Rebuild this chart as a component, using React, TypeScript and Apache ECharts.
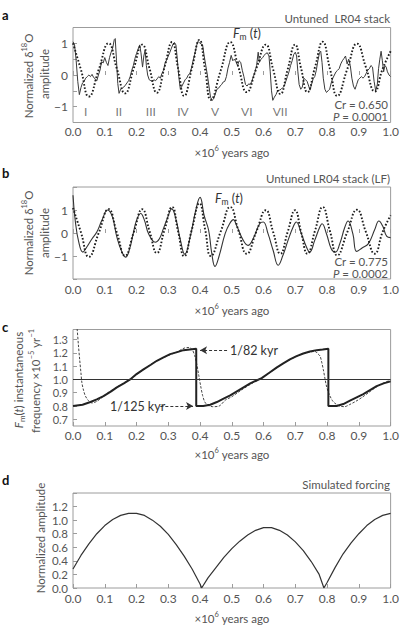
import React, { useEffect, useRef } from "react";
import * as echarts from "echarts";

// ---- a: untuned LR04 stack, normalized δ18O (age ×10^6 yr ago) ----
const lr04Age = [
  0, 0.005, 0.01, 0.015, 0.02, 0.025, 0.03, 0.035, 0.04, 0.045,
  0.05, 0.055, 0.06, 0.065, 0.07, 0.075, 0.08, 0.085, 0.09, 0.095,
  0.1, 0.105, 0.11, 0.115, 0.12, 0.125, 0.13, 0.133, 0.137, 0.141,
  0.145, 0.15, 0.155, 0.16, 0.165, 0.17, 0.175, 0.18, 0.185, 0.19,
  0.195, 0.2, 0.205, 0.21, 0.214, 0.219, 0.223, 0.227, 0.231, 0.235,
  0.24, 0.245, 0.25, 0.255, 0.26, 0.265, 0.27, 0.275, 0.28, 0.285,
  0.29, 0.295, 0.3, 0.305, 0.31, 0.315, 0.32, 0.324, 0.328, 0.333,
  0.338, 0.343, 0.348, 0.353, 0.358, 0.363, 0.368, 0.373, 0.378, 0.383,
  0.388, 0.393, 0.398, 0.403, 0.408, 0.413, 0.418, 0.423, 0.428, 0.433,
  0.438, 0.443, 0.448, 0.453, 0.458, 0.463, 0.468, 0.473, 0.478, 0.483,
  0.488, 0.493, 0.498, 0.503, 0.508, 0.513, 0.518, 0.523, 0.528, 0.533,
  0.538, 0.543, 0.548, 0.553, 0.558, 0.563, 0.568, 0.573, 0.578, 0.583,
  0.587, 0.592, 0.597, 0.602, 0.607, 0.612, 0.617, 0.621, 0.625, 0.629,
  0.634, 0.639, 0.644, 0.65, 0.655, 0.66, 0.665, 0.67, 0.675, 0.68,
  0.685, 0.69, 0.695, 0.7, 0.704, 0.708, 0.712, 0.717, 0.722, 0.727,
  0.732, 0.737, 0.742, 0.746, 0.751, 0.756, 0.761, 0.766, 0.771, 0.776,
  0.78, 0.784, 0.788, 0.793, 0.798, 0.803, 0.808, 0.813, 0.818, 0.823,
  0.828, 0.833, 0.838, 0.843, 0.848, 0.853, 0.858, 0.863, 0.868, 0.873,
  0.878, 0.883, 0.888, 0.893, 0.898, 0.903, 0.908, 0.913, 0.918, 0.923,
  0.928, 0.933, 0.938, 0.943, 0.948, 0.953, 0.958, 0.962, 0.966, 0.97,
  0.974, 0.978, 0.982, 0.986, 0.99, 0.995, 1.0,
];
const lr04Amp = [
  1.05, 0.95, 0.45, -0.2, -0.62, -0.4, -0.25, -0.2, -0.1, -0.05,
  0.0, -0.05, 0.02, -0.08, -0.12, -0.18, 0.0, 0.15, 0.42, 0.38,
  0.55, 0.4, 0.3, 0.55, 0.72, 0.85, 1.12, 1.15, 0.45, -0.27,
  -0.58, -0.45, -0.42, -0.38, -0.32, -0.25, -0.18, -0.05, 0.15, 0.3,
  0.52, 0.68, 0.82, 0.95, 0.7, 0.25, 0.6, 0.78, 0.3, 0.0,
  -0.15, -0.18, -0.2, -0.15, -0.18, -0.12, -0.05, -0.1, 0.05, 0.15,
  0.38, 0.48, 0.6, 0.72, 0.85, 0.98, 1.02, 0.95, 0.55, -0.05,
  -0.45, -0.35, -0.25, -0.15, -0.1, 0.0, 0.05, 0.22, 0.45, 0.65,
  0.88, 1.06, 1.02, 0.98, 0.95, 0.6, 0.3, 0.0, -0.35, -0.7,
  -0.8, -0.75, -0.6, -0.45, -0.42, -0.35, -0.3, -0.22, -0.2, -0.05,
  0.22, 0.4, 0.62, 0.45, 0.5, 0.42, 0.3, 0.45, 0.4, 0.15,
  -0.05, -0.3, -0.35, -0.28, -0.3, -0.2, -0.05, 0.1, 0.3, 0.72,
  0.4, 0.5, 0.55, 0.62, 0.68, 0.7, 0.6, 0.1, -0.5, -0.8,
  -0.7, -0.62, -0.5, -0.48, -0.45, -0.4, -0.35, -0.2, -0.05, 0.1,
  0.3, 0.45, 0.65, 0.72, 0.6, 0.1, -0.3, -0.45, -0.38, -0.1,
  -0.15, -0.2, -0.35, -0.48, -0.3, -0.12, -0.05, 0.15, 0.45, 0.7,
  0.75, 0.4, -0.1, -0.45, -0.55, -0.5, -0.45, -0.25, -0.1, 0.0,
  0.1, 0.15, 0.2, 0.35, 0.45, 0.52, 0.6, 0.35, 0.5, 0.3,
  -0.1, -0.35, -0.45, -0.3, -0.15, -0.1, -0.05, -0.1, -0.05, 0.05,
  0.15, 0.2, 0.3, 0.25, -0.2, -0.5, -0.3, 0.2, 0.5, 0.75,
  0.45, 0.1, 0.3, 0.25, 0.1, 0.0, -0.05,
];

// Fm(t): turning points and mid-crossings of the modulated model curve
const fmAge = [
  0, 0.025, 0.05, 0.081, 0.112, 0.138, 0.164, 0.191, 0.218, 0.241,
  0.264, 0.288, 0.312, 0.331, 0.35, 0.374, 0.398, 0.416, 0.434, 0.465,
  0.495, 0.521, 0.547, 0.577, 0.607, 0.63, 0.653, 0.676, 0.699, 0.718,
  0.738, 0.762, 0.786, 0.809, 0.832, 0.863, 0.894, 0.922, 0.95, 0.975, 1.0,
];
const fmAmpA = [
  1.0, 0.17, -0.68, 0.17, 1.0, 0.2, -0.58, 0.2, 0.96, 0.2,
  -0.56, 0.24, 1.04, 0.2, -0.66, 0.2, 1.11, 0.17, -0.78, 0.14,
  1.04, 0.24, -0.54, 0.2, 0.96, 0.18, -0.6, 0.18, 0.96, 0.21,
  -0.54, 0.25, 1.05, 0.19, -0.66, 0.17, 0.99, 0.25, -0.52, 0.2, 0.75,
];
const fmAmpB = [
  1.09, 0.03, -1.04, 0.0, 1.04, 0.02, -0.99, 0.02, 1.03, 0.08,
  -0.87, 0.13, 1.13, 0.06, -1.01, 0.14, 1.29, 0.15, -1.0, 0.06,
  1.13, 0.1, -0.9, 0.05, 0.99, 0.05, -0.9, 0.05, 0.99, 0.05,
  -0.9, 0.1, 1.13, 0.08, -0.97, 0.02, 1.01, 0.05, -0.9, 0.05, 0.77,
];

// ---- b: low-frequency (filtered) stack ----
const lfAge = [
  0, 0.007, 0.018, 0.031, 0.044, 0.06, 0.075, 0.091, 0.109, 0.124,
  0.138, 0.154, 0.166, 0.178, 0.19, 0.2, 0.213, 0.225, 0.238, 0.259,
  0.272, 0.285, 0.296, 0.311, 0.325, 0.338, 0.352, 0.369, 0.385, 0.4,
  0.413, 0.427, 0.437, 0.447, 0.46, 0.479, 0.493, 0.505, 0.515, 0.536,
  0.551, 0.567, 0.588, 0.599, 0.614, 0.63, 0.646, 0.661, 0.677, 0.693,
  0.703, 0.719, 0.735, 0.745, 0.761, 0.777, 0.784, 0.798, 0.813, 0.826,
  0.84, 0.856, 0.866, 0.881, 0.893, 0.91, 0.93, 0.95, 0.963, 0.975, 0.988, 1.0,
];
const lfAmp = [
  1.64, 0.55, -0.39, -0.83, -0.6, -0.25, 0.04, 0.55, 1.0, 0.7,
  -0.17, -0.83, -1.05, -0.7, 0.0, 0.55, 0.85, 0.55, -0.03, -0.4,
  -0.25, 0.2, 0.6, 1.05, 0.55, -0.3, -0.92, -0.17, 0.9, 1.55,
  0.75, 0.12, -0.9, -1.45, -1.0, -0.03, 0.4, 0.58, 0.33, -0.32,
  -0.54, -0.25, 0.41, 0.48, -0.03, -0.75, -1.4, -0.97, -0.32, 0.26,
  0.48, -0.03, -0.61, -0.83, -0.32, 0.26, 0.4, -0.03, -0.68, -0.83,
  -0.46, 0.26, 0.52, -0.03, -0.8, -0.65, -0.46, 0.15, 0.52, 0.3, -0.15, -0.2,
];

// ---- c: instantaneous frequency of Fm(t), ×10^-5 yr^-1 ----
const freqAge = [
  0, 0.03, 0.055, 0.075, 0.096, 0.12, 0.138, 0.16, 0.18, 0.2,
  0.222, 0.245, 0.264, 0.285, 0.306, 0.328, 0.348, 0.368, 0.388, 0.388,
  0.41, 0.432, 0.453, 0.474, 0.495, 0.516, 0.537, 0.558, 0.576, 0.594,
  0.618, 0.642, 0.662, 0.683, 0.704, 0.725, 0.746, 0.767, 0.786, 0.804,
  0.804, 0.83, 0.851, 0.872, 0.893, 0.914, 0.935, 0.956, 0.978, 1.0,
];
const freqVal = [
  0.8, 0.81, 0.83, 0.85, 0.875, 0.91, 0.94, 0.97, 1.0, 1.04,
  1.075, 1.11, 1.14, 1.165, 1.19, 1.205, 1.22, 1.225, 1.23, 0.8,
  0.8, 0.81, 0.83, 0.855, 0.88, 0.91, 0.94, 0.97, 0.99, 1.01,
  1.05, 1.09, 1.12, 1.15, 1.175, 1.195, 1.21, 1.22, 1.225, 1.23,
  0.8, 0.8, 0.815, 0.84, 0.865, 0.89, 0.92, 0.95, 0.97, 0.985,
];
const freqEstAge = [
  0.008, 0.013, 0.017, 0.021, 0.025, 0.028, 0.033, 0.039, 0.049, 0.06,
  0.075, 0.09, 0.11, 0.14, 0.18, 0.22, 0.26, 0.3, 0.33, 0.35,
  0.365, 0.375, 0.383, 0.39, 0.396, 0.402, 0.408, 0.415, 0.425, 0.44,
  0.46, 0.48, 0.5, 0.53, 0.56, 0.6, 0.64, 0.68, 0.72, 0.745,
  0.762, 0.772, 0.778, 0.783, 0.788, 0.793, 0.797, 0.803, 0.809, 0.817,
  0.825, 0.84, 0.855, 0.87, 0.89, 0.91, 0.93, 0.95, 0.97, 1.0,
];
const freqEstVal = [
  1.5, 1.38, 1.26, 1.15, 1.05, 0.975, 0.92, 0.875, 0.84, 0.823,
  0.835, 0.862, 0.9, 0.945, 1.0, 1.07, 1.135, 1.18, 1.21, 1.235,
  1.24, 1.225, 1.18, 1.11, 1.03, 0.95, 0.88, 0.83, 0.805, 0.795,
  0.8, 0.845, 0.87, 0.92, 0.965, 1.02, 1.085, 1.145, 1.19, 1.205,
  1.21, 1.19, 1.175, 1.13, 1.075, 1.01, 0.96, 0.91, 0.875, 0.84,
  0.82, 0.8, 0.795, 0.81, 0.835, 0.865, 0.9, 0.935, 0.965, 0.995,
];
const freqTicks = [0.7, 0.8, 0.9, 1.0, 1.1, 1.2, 1.3];
const meanFreq = 1.0;

// ---- d: simulated forcing amplitude ----
const forcingAge = [
  0, 0.025, 0.05, 0.075, 0.1, 0.125, 0.15, 0.175, 0.2, 0.225,
  0.25, 0.275, 0.3, 0.325, 0.35, 0.375, 0.4, 0.405, 0.425, 0.45,
  0.475, 0.5, 0.525, 0.55, 0.575, 0.6, 0.625, 0.65, 0.675, 0.7,
  0.725, 0.75, 0.775, 0.79, 0.8, 0.825, 0.85, 0.875, 0.9, 0.925,
  0.95, 0.975, 1.0,
];
const forcingAmp = [
  0.28, 0.48, 0.65, 0.8, 0.92, 1.01, 1.07, 1.1, 1.1, 1.07,
  1.0, 0.91, 0.79, 0.64, 0.47, 0.28, 0.06, 0.0, 0.15, 0.3,
  0.45, 0.58, 0.69, 0.78, 0.85, 0.89, 0.89, 0.85, 0.78, 0.68,
  0.55, 0.39, 0.2, 0.0, 0.08, 0.3, 0.5, 0.66, 0.8, 0.92,
  1.01, 1.07, 1.1,
];

// glacial cycle labels in panel a
const numerals = ["I", "II", "III", "IV", "V", "VI", "VII"];
const numeralAge = [0.04, 0.144, 0.245, 0.346, 0.447, 0.547, 0.652];
const numeralLevel = -1.16;

const FONT = "Lato, 'Open Sans', 'DejaVu Sans', sans-serif";
const TXT = "#555";
const FRAME = "#9c9c9c";
const FS = 11.5;

const RICH: any = {
  n: { fontSize: FS, fontFamily: FONT, fill: TXT, lineHeight: 16 },
  it: { fontSize: FS, fontFamily: FONT, fill: TXT, fontStyle: "italic", lineHeight: 16 },
  big: { fontSize: 12.5, fontFamily: FONT, fill: "#333", lineHeight: 16 },
  bigit: { fontSize: 12.5, fontFamily: FONT, fill: "#333", fontStyle: "italic", lineHeight: 16 },
  sup: { fontSize: 7.5, fontFamily: FONT, fill: TXT, verticalAlign: "top", lineHeight: 8 },
  sub: { fontSize: 8, fontFamily: FONT, fill: TXT, verticalAlign: "bottom", lineHeight: 8 },
  bsub: { fontSize: 8.5, fontFamily: FONT, fill: "#333", verticalAlign: "bottom", lineHeight: 8 },
};

const zip = (xs: number[], ys: number[]) =>
  xs.slice(0, Math.min(xs.length, ys.length)).map((x, i) => [x, ys[i]]);

function label(x: number, y: number, text: string, extra: any = {}, rotation = 0) {
  return {
    type: "text",
    x,
    y,
    rotation,
    silent: true,
    style: {
      text,
      rich: RICH,
      fill: TXT,
      fontSize: FS,
      fontFamily: FONT,
      align: "left",
      verticalAlign: "middle",
      ...extra,
    },
  };
}

const grids = [
  { left: 73, top: 27.5, width: 318, height: 95 },
  { left: 73, top: 187, width: 318, height: 92 },
  { left: 73, top: 329.5, width: 318, height: 96.5 },
  { left: 73, top: 493, width: 318, height: 95 },
].map((g) => ({ ...g, show: true, borderColor: FRAME, borderWidth: 1, backgroundColor: "transparent" }));

const tickStyle = { inside: true, length: 4, lineStyle: { color: FRAME, width: 1 } };
const labelBase = { fontSize: 12, color: TXT, fontFamily: FONT };

const xAxes = [3, 4, 3, 4].map((margin, i) => ({
  type: "value",
  gridIndex: i,
  min: 0,
  max: 1,
  interval: 0.1,
  axisLine: { show: false },
  axisTick: tickStyle,
  splitLine: { show: false },
  axisLabel: { ...labelBase, margin, formatter: (v: number) => v.toFixed(1) },
}));

const minus = (v: number) => (v < 0 ? "\u2212" + Math.abs(v) : String(v));

const yAxes = [
  {
    gridIndex: 0, min: -1.5, max: 1.5, interval: 0.5,
    axisLabel: { formatter: (v: number) => (Number.isInteger(v) && Math.abs(v) <= 1 ? minus(v) : "") },
  },
  {
    gridIndex: 1, min: -2, max: 2, interval: 1,
    axisLabel: { formatter: (v: number) => (Math.abs(v) <= 1 ? minus(v) : "") },
  },
  {
    gridIndex: 2, min: 0.65, max: 1.375,
    axisLabel: { customValues: freqTicks, fontSize: 11, formatter: (v: number) => v.toFixed(1) },
    axisTick: { customValues: freqTicks },
  },
  {
    gridIndex: 3, min: 0, max: 1.4, interval: 0.2,
    axisLabel: { fontSize: 11.5, formatter: (v: number) => (v > 1.3 ? "" : v.toFixed(1)) },
  },
].map((a: any) => ({
  type: "value",
  ...a,
  axisLine: { show: false },
  axisTick: { ...tickStyle, ...(a.axisTick || {}) },
  splitLine: { show: false },
  axisLabel: { ...labelBase, margin: 5, ...a.axisLabel },
}));

const dotted = { color: "#1c1c1c", width: 1.9, type: [1.6, 1.9] as any };
const solid = { color: "#3a3a3a", width: 1 };

const fmLabel = "{bigit|F}{bsub|m}{big| (}{bigit|t}{big|)}";
const agoLabel = "{n|\u00d710}{sup|6}{n| years ago}";

const option: any = {
  animation: false,
  backgroundColor: "#ffffff",
  grid: grids,
  xAxis: xAxes,
  yAxis: yAxes,
  series: [
    {
      type: "line", xAxisIndex: 0, yAxisIndex: 0, data: zip(lr04Age, lr04Amp),
      showSymbol: false, lineStyle: solid, z: 3,
    },
    {
      type: "line", xAxisIndex: 0, yAxisIndex: 0, data: zip(fmAge, fmAmpA),
      showSymbol: false, smooth: 0.5, lineStyle: dotted, z: 4,
    },
    {
      type: "scatter", xAxisIndex: 0, yAxisIndex: 0, symbolSize: 1, silent: true,
      itemStyle: { color: "transparent" },
      data: numeralAge.map((t, i) => ({ name: numerals[i], value: [t, numeralLevel] })),
      label: { show: true, position: "inside", formatter: "{b}", color: TXT, fontSize: 12, fontFamily: FONT },
    },
    {
      type: "line", xAxisIndex: 1, yAxisIndex: 1, data: zip(lfAge, lfAmp),
      showSymbol: false, smooth: 0.45, lineStyle: { color: "#333", width: 1.1 }, z: 3,
    },
    {
      type: "line", xAxisIndex: 1, yAxisIndex: 1, data: zip(fmAge, fmAmpB),
      showSymbol: false, smooth: 0.5, lineStyle: dotted, z: 4,
    },
    {
      type: "line", xAxisIndex: 2, yAxisIndex: 2, data: zip(freqAge, freqVal),
      showSymbol: false, lineStyle: { color: "#222", width: 2 }, z: 4,
      markLine: {
        silent: true, symbol: ["none", "none"], label: { show: false },
        lineStyle: { color: "#333", width: 1, type: "solid" },
        data: [{ yAxis: meanFreq }],
      },
    },
    {
      type: "line", xAxisIndex: 2, yAxisIndex: 2, data: zip(freqEstAge, freqEstVal),
      showSymbol: false, smooth: 0.3, lineStyle: { color: "#444", width: 1, type: [2.5, 1.5] }, z: 3,
      markLine: {
        silent: true, label: { show: false }, symbol: ["none", "arrow"], symbolSize: [6, 7],
        lineStyle: { color: "#333", width: 1, type: [3, 2] },
        data: [
          [{ coord: [0.485, 1.22] }, { coord: [0.4, 1.22] }],
          [{ coord: [0.275, 0.8] }, { coord: [0.378, 0.8] }],
        ],
      },
    },
    {
      type: "line", xAxisIndex: 3, yAxisIndex: 3, data: zip(forcingAge, forcingAmp),
      showSymbol: false, lineStyle: { color: "#333", width: 1.2 },
    },
  ],
  graphic: [
    label(2, 15, "a", { fontWeight: "bold", fill: "#111", fontSize: 13, rich: undefined }),
    label(2, 173, "b", { fontWeight: "bold", fill: "#111", fontSize: 13, rich: undefined }),
    label(2, 327, "c", { fontWeight: "bold", fill: "#111", fontSize: 13, rich: undefined }),
    label(2, 480, "d", { fontWeight: "bold", fill: "#111", fontSize: 13, rich: undefined }),

    label(390, 18, "{n|Untuned  LR04 stack}", { align: "right" }),
    label(390, 178, "{n|Untuned LR04 stack (LF)}", { align: "right" }),
    label(390, 484, "{n|Simulated forcing}", { align: "right" }),

    label(232, 152, agoLabel, { align: "center" }),
    label(232, 310, agoLabel, { align: "center" }),
    label(232, 454, agoLabel, { align: "center" }),
    label(232, 618, agoLabel, { align: "center" }),

    label(28, 76, "{n|Normalized \u03b4}{sup|18}{n|O}", { align: "center" }, Math.PI / 2),
    label(44, 74, "{n|amplitude}", { align: "center" }, Math.PI / 2),
    label(28, 233, "{n|Normalized \u03b4}{sup|18}{n|O}", { align: "center" }, Math.PI / 2),
    label(44, 233, "{n|amplitude}", { align: "center" }, Math.PI / 2),
    label(18, 380, "{it|F}{sub|m}{n|(}{it|t}{n|) instantaneous}", { align: "center" }, Math.PI / 2),
    label(35, 381, "{n|frequency \u00d710}{sup|\u22125}{n| yr}{sup|\u22121}", { align: "center" }, Math.PI / 2),
    label(40, 538, "{n|Normalized amplitude}", { align: "center" }, Math.PI / 2),

    label(233, 33, fmLabel),
    label(215, 198, fmLabel),

    label(388, 104, "{n|Cr = 0.650}", { align: "right" }),
    label(388, 116, "{it|P}{n| = 0.0001}", { align: "right" }),
    label(388, 261, "{n|Cr = 0.775}", { align: "right" }),
    label(388, 273, "{it|P}{n| = 0.0002}", { align: "right" }),

    label(230, 350, "{big|1/82 kyr}"),
    label(110, 406, "{big|1/125 kyr}"),
  ],
};

export default function App() {
  const ref = useRef<HTMLDivElement>(null);
  useEffect(() => {
    if (!ref.current) return;
    const chart = echarts.init(ref.current, undefined, { renderer: "svg" });
    chart.setOption(option);
    return () => chart.dispose();
  }, []);
  return (
    <div
      ref={ref}
      style={{ position: "absolute", left: 0, top: 0, width: 402, height: 625, background: "#fff" }}
    />
  );
}
